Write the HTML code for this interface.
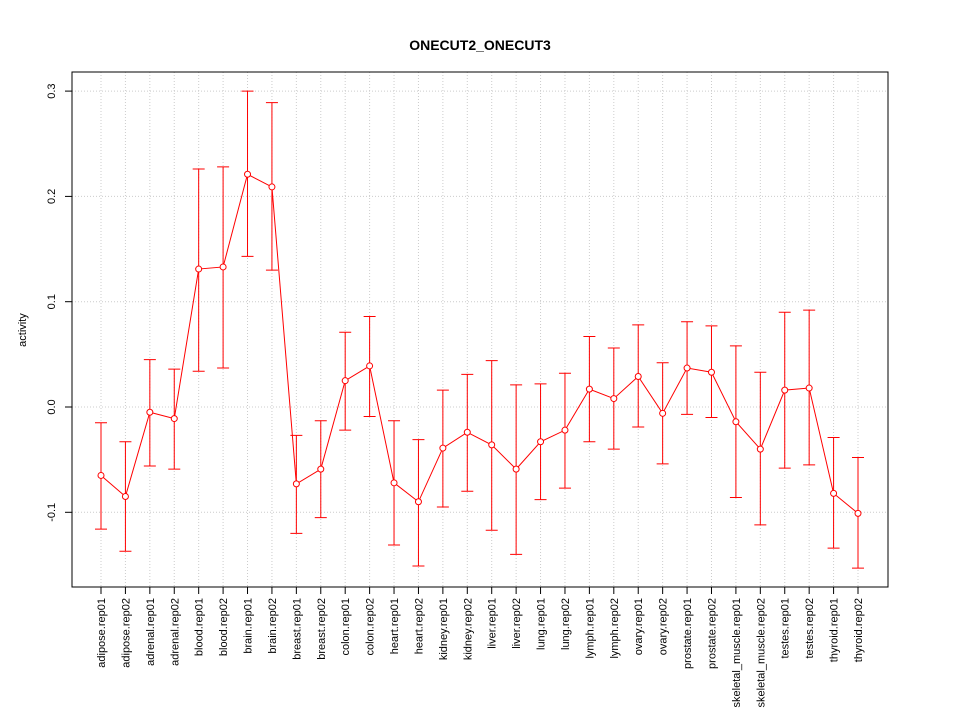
<!DOCTYPE html>
<html><head><meta charset="utf-8"><style>body{margin:0;background:#fff}svg{display:block;font-family:"Liberation Sans",sans-serif}</style></head>
<body>
<svg id="chart" width="960" height="720">
<text x="480" y="50" text-anchor="middle" font-weight="bold" font-size="14">ONECUT2_ONECUT3</text>
<text transform="translate(26,330) rotate(-90)" text-anchor="middle" font-size="11">activity</text>
<g id="grid"></g><g id="axes"></g>
<rect x="72" y="72" width="816" height="515" fill="none" stroke="#000"/>
<g id="marks"></g>
</svg>
<script>
const categories=["adipose.rep01","adipose.rep02","adrenal.rep01","adrenal.rep02","blood.rep01","blood.rep02","brain.rep01","brain.rep02","breast.rep01","breast.rep02","colon.rep01","colon.rep02","heart.rep01","heart.rep02","kidney.rep01","kidney.rep02","liver.rep01","liver.rep02","lung.rep01","lung.rep02","lymph.rep01","lymph.rep02","ovary.rep01","ovary.rep02","prostate.rep01","prostate.rep02","skeletal_muscle.rep01","skeletal_muscle.rep02","testes.rep01","testes.rep02","thyroid.rep01","thyroid.rep02"];
const values=[-0.065,-0.085,-0.005,-0.011,0.131,0.133,0.221,0.209,-0.073,-0.059,0.025,0.039,-0.072,-0.090,-0.039,-0.024,-0.036,-0.059,-0.033,-0.022,0.017,0.008,0.029,-0.006,0.037,0.033,-0.014,-0.040,0.016,0.018,-0.082,-0.101];
const upper=[-0.015,-0.033,0.045,0.036,0.226,0.228,0.300,0.289,-0.027,-0.013,0.071,0.086,-0.013,-0.031,0.016,0.031,0.044,0.021,0.022,0.032,0.067,0.056,0.078,0.042,0.081,0.077,0.058,0.033,0.090,0.092,-0.029,-0.048];
const lower=[-0.116,-0.137,-0.056,-0.059,0.034,0.037,0.143,0.130,-0.120,-0.105,-0.022,-0.009,-0.131,-0.151,-0.095,-0.080,-0.117,-0.140,-0.088,-0.077,-0.033,-0.040,-0.019,-0.054,-0.007,-0.010,-0.086,-0.112,-0.058,-0.055,-0.134,-0.153];
const yTicks=[-0.1,0.0,0.1,0.2,0.3];
const yTickLabels=["-0.1","0.0","0.1","0.2","0.3"];
const NS="http://www.w3.org/2000/svg";
const x=i=>101+i*(858-101)/(categories.length-1);
const y=v=>407-v*1053;
function mk(tag,attrs,parent,text){const e=document.createElementNS(NS,tag);for(const k in attrs)e.setAttribute(k,attrs[k]);if(text!==undefined)e.textContent=text;document.getElementById(parent).appendChild(e);return e;}
yTicks.forEach((t,i)=>{
 let g=mk("line",{x1:72,x2:888,y1:y(t),y2:y(t),stroke:"#ccc","stroke-dasharray":"1,2"},"grid");
 
 
 let tk=mk("line",{x1:65,x2:72,y1:y(t),y2:y(t),stroke:"#000"},"axes");
 
 
 let lb=mk("text",{transform:`translate(55,${y(t)}) rotate(-90)`,"text-anchor":"middle","font-size":"11"},"axes",yTickLabels[i]);
 
 
});
categories.forEach((c,i)=>{
 let g=mk("line",{x1:x(i),x2:x(i),y1:72,y2:587,stroke:"#ccc","stroke-dasharray":"1,2"},"grid");
 
 
 let tk=mk("line",{x1:x(i),x2:x(i),y1:587,y2:594,stroke:"#000"},"axes");
 
 
 let lb=mk("text",{transform:`translate(${x(i)+4},598) rotate(-90)`,"text-anchor":"end","font-size":"11"},"axes",c);
 
 
});
let pts=values.map((v,i)=>x(i)+","+y(v)).join(" ");
let pl=mk("polyline",{points:pts,fill:"none",stroke:"#f00"},"marks");


values.forEach((v,i)=>{
 let e=mk("path",{d:`M${x(i)},${y(upper[i])}V${y(lower[i])}M${x(i)-6},${y(upper[i])}H${x(i)+6}M${x(i)-6},${y(lower[i])}H${x(i)+6}`,stroke:"#f00",fill:"none"},"marks");
 
 
 let p=mk("circle",{cx:x(i),cy:y(v),r:3,fill:"#fff",stroke:"#f00"},"marks");
 
 
});
</script>
</body></html>
